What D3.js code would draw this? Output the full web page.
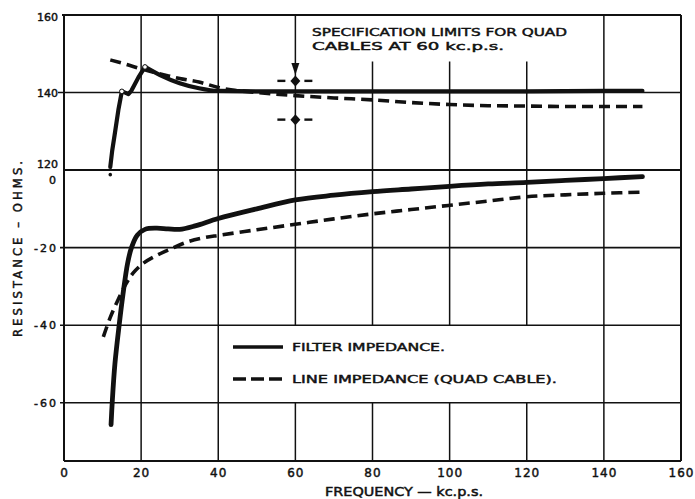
<!DOCTYPE html>
<html><head><meta charset="utf-8">
<script src="https://cdn.jsdelivr.net/npm/d3@7"></script>
<style>
body{margin:0;background:#fff}
svg{display:block;background:#fff}
text{font-family:"DejaVu Sans",sans-serif;font-weight:normal;fill:#111;stroke:#111;stroke-width:0.45}
</style>
</head><body>
<svg id="c" width="695" height="499"></svg>
<script>
// ---------- data ----------
const freqTicks = [0,20,40,60,80,100,120,140,160];
const topTicks = [160,140,120];
const botTicks = [0,-20,-40,-60];
const botTickLabels = ["0","-20","-40","-60"];

// upper panel (resistance, ohms)
const filterTop = [[12,120.8],[12.5,125],[13.2,129.5],[14.1,135.5],[15,140.3],[16,139.9],[16.7,139.6],[17.5,140.5],[19.3,143.9],[21,146.6],
  [24.9,144.5],[30,142.4],[35,141.1],[40,140.4],[50,140.3],[60,140.3],[80,140.3],[100,140.3],[120,140.3],[140,140.4],[150,140.4]];
const lineTop = [[12,148.4],[16,147.3],[20,146.1],[26.6,144.4],[30,143.6],[35,142.7],[40,141.3],[50,140],[60,139.2],[70,138.6],[80,138.1],
  [90,137.4],[100,136.9],[110,136.6],[120,136.5],[130,136.4],[140,136.4],[150,136.4]];
const filterMarks = [[15,140.3],[21,146.6]];
const specFreq = 60;
const specLimits = [143,133];

// lower panel
const filterBot = [[12.2,-65.6],[12.5,-60],[13.2,-50],[14.3,-40],[15.3,-32],[16.5,-24],[17.5,-20],[19,-16.8],[21,-15.3],[24,-15],
  [27,-15.2],[30,-15.3],[34,-14.4],[40,-12.5],[50,-10],[60,-7.7],[70,-6.5],[80,-5.6],[90,-4.9],[100,-4.2],[110,-3.6],[120,-3.2],
  [130,-2.7],[140,-2.2],[150,-1.7]];
const lineBot = [[10.2,-43],[12,-38],[14,-33.5],[16,-29.5],[17.9,-26.6],[20.6,-24],[24,-22],[27.5,-20.4],[31.8,-18.6],[36,-17.5],
  [40.4,-16.8],[50,-15.4],[60,-14],[70,-12.6],[80,-11.3],[90,-10.2],[100,-9.1],[110,-8],[120,-6.9],[130,-6.4],[140,-6],[150,-5.7]];
const strayDot = [12,-1.2];

const legendItems = ["FILTER IMPEDANCE.","LINE IMPEDANCE (QUAD CABLE)."];
const noteLines = ["SPECIFICATION LIMITS FOR QUAD","CABLES AT 60 kc.p.s."];
const xTitle = "FREQUENCY \u2014 kc.p.s.";
const yTitle = "RESISTANCE \u2013 OHMS.";

// ---------- scales ----------
const svg = d3.select("#c");
const x = d3.scaleLinear().domain([0,160]).range([64,681]);
const yTop = d3.scaleLinear().domain([120,160]).range([170,15]);
const yBot = d3.scaleLinear().domain([-75,0]).range([461,170]);
const ink = "#111";

// ---------- grid ----------
const grid = svg.append("g").attr("stroke",ink).attr("fill","none");
[[yTop(160),62,2],[yTop(140),58,1.6],[yTop(120),63,1.8],[yBot(-20),60,1.6],[yBot(-40),60,1.6],[yBot(-60),60,1.6],[yBot(-75),64,2.2]]
  .forEach(([yy,x0,w])=>grid.append("line").attr("x1",x0).attr("x2",x(160)).attr("y1",yy).attr("y2",yy).attr("stroke-width",w));
freqTicks.forEach(f=>{
  const w = (f===0||f===160)?2:1.5;
  const segs = [];
  let topStart = yTop(160);
  if (f>=80 && f<=120) topStart = yTop(148);
  if (f>=60 && f<=120) {
    segs.push([topStart, yBot(-40)]);
    segs.push([yBot(-60), yBot(-75)]);
  } else segs.push([topStart, yBot(-75)]);
  segs.forEach(([a,b])=>grid.append("line").attr("x1",x(f)).attr("x2",x(f)).attr("y1",a).attr("y2",b).attr("stroke-width",w));
});

// ---------- axes labels ----------
function styleText(sel,size){
  sel.attr("font-size",size).attr("font-family","DejaVu Sans").attr("font-weight","normal").attr("fill",ink)
     .attr("stroke",ink).attr("stroke-width",0.45);
}
const xa = svg.append("g").attr("transform",`translate(0,${yBot(-75)})`)
  .call(d3.axisBottom(x).tickValues(freqTicks).tickSize(0).tickPadding(7).tickFormat(d3.format("d")));
xa.select(".domain").remove();
styleText(xa.selectAll("text"),12);
xa.selectAll("text").attr("letter-spacing",1);

const ya1 = svg.append("g").attr("transform",`translate(${x(0)},0)`)
  .call(d3.axisLeft(yTop).tickValues(topTicks).tickSize(0).tickPadding(6).tickFormat(d3.format("d")));
ya1.select(".domain").remove();
styleText(ya1.selectAll("text"),11);
ya1.selectAll("text").attr("dy",d=>d===120?"-0.25em":(d===160?"0.5em":"0.32em"));

const ya2 = svg.append("g").attr("transform",`translate(${x(0)},0)`)
  .call(d3.axisLeft(yBot).tickValues(botTicks).tickSize(0).tickPadding(6).tickFormat((d,i)=>botTickLabels[i]));
ya2.select(".domain").remove();
styleText(ya2.selectAll("text"),11);
ya2.selectAll("text").attr("letter-spacing",2).attr("dy",d=>d===0?"1.25em":"0.32em");

svg.append("text").attr("x",404).attr("y",496).attr("text-anchor","middle").attr("font-size",11.5)
  .attr("textLength",158).attr("lengthAdjust","spacingAndGlyphs").text(xTitle);
svg.append("text").attr("transform","translate(22,249) rotate(-90)").attr("text-anchor","middle").attr("font-size",11.5)
  .attr("textLength",176).attr("lengthAdjust","spacing").text(yTitle);

// ---------- curves ----------
const lt = d3.line().x(d=>x(d[0])).y(d=>yTop(d[1])).curve(d3.curveMonotoneX);
const lbs = d3.line().x(d=>x(d[0])).y(d=>yBot(d[1])).curve(d3.curveCatmullRom);
const dash = "11,6";

svg.append("path").attr("d",lt(lineTop)).attr("fill","none").attr("stroke",ink).attr("stroke-width",3.6).attr("stroke-dasharray",dash);
svg.append("path").attr("d",d3.line().x(d=>x(d[0])).y(d=>yTop(d[1])).curve(d3.curveLinear)(filterTop.slice(0,10))
   ).attr("fill","none").attr("stroke",ink).attr("stroke-width",4.2).attr("stroke-linejoin","round").attr("stroke-linecap","round");
svg.append("path").attr("d",lt(filterTop.slice(9))).attr("fill","none").attr("stroke",ink).attr("stroke-width",4.2).attr("stroke-linecap","round");
svg.selectAll(".fm").data(filterMarks).join("circle").attr("cx",d=>x(d[0])).attr("cy",d=>yTop(d[1])).attr("r",2.3)
  .attr("fill","#fff").attr("stroke",ink).attr("stroke-width",1);

svg.append("path").attr("d",lbs(lineBot)).attr("fill","none").attr("stroke",ink).attr("stroke-width",3.6).attr("stroke-dasharray",dash);
svg.append("path").attr("d",lbs(filterBot)).attr("fill","none").attr("stroke",ink).attr("stroke-width",4.8).attr("stroke-linecap","round");
svg.append("circle").attr("cx",x(strayDot[0])).attr("cy",yBot(strayDot[1])).attr("r",1.8).attr("fill",ink);

// ---------- specification limits ----------
const sx = x(specFreq);
specLimits.forEach(v=>{
  const cy = yTop(v);
  svg.append("path").attr("d",`M${sx},${cy-5.5}L${sx+5},${cy}L${sx},${cy+5.5}L${sx-5},${cy}Z`).attr("fill",ink);
  svg.append("line").attr("x1",sx-18).attr("x2",sx-10).attr("y1",cy).attr("y2",cy).attr("stroke",ink).attr("stroke-width",2.4);
  svg.append("line").attr("x1",sx+9).attr("x2",sx+17).attr("y1",cy).attr("y2",cy).attr("stroke",ink).attr("stroke-width",2.4);
});
{
  const tip = yTop(specLimits[0]) - 6;
  svg.append("path").attr("d",`M${sx-4},${tip-12}L${sx+4},${tip-12}L${sx},${tip}Z`).attr("fill",ink);
}

// ---------- note ----------
noteLines.forEach((t,i)=>svg.append("text").attr("x",312).attr("y",36+i*14).attr("font-size",11)
  .attr("textLength",i===0?255:192).attr("lengthAdjust","spacingAndGlyphs").text(t));

// ---------- legend ----------
const lg = svg.append("g");
legendItems.forEach((t,i)=>{
  const yy = 347 + i*32;
  lg.append("line").attr("x1",233).attr("x2",283).attr("y1",yy).attr("y2",yy).attr("stroke",ink).attr("stroke-width",3.6)
    .attr("stroke-dasharray",i===0?null:"13,5").attr("stroke-linecap","butt");
  lg.append("text").attr("x",292).attr("y",yy+4).attr("font-size",11)
    .attr("textLength",i===0?153:265).attr("lengthAdjust","spacingAndGlyphs").text(t);
});
</script>
</body></html>
